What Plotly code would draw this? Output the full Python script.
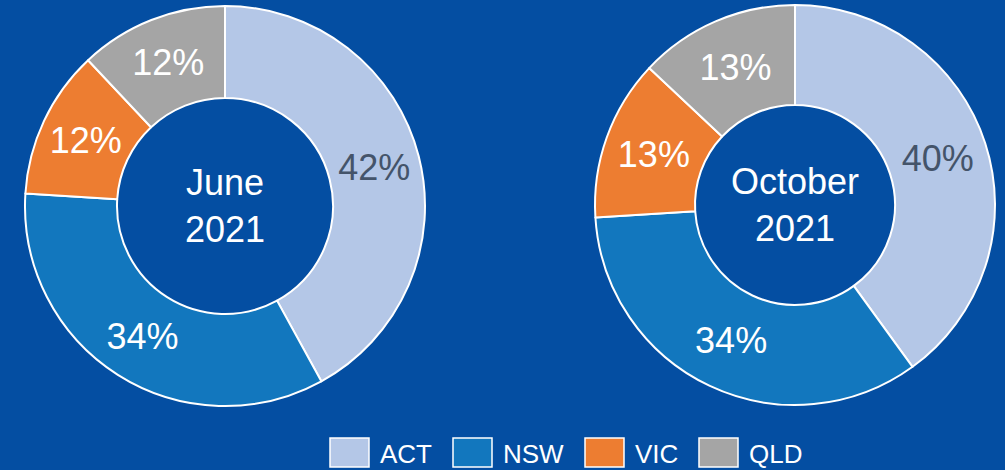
import plotly.graph_objects as go

categories = ["ACT", "NSW", "VIC", "QLD"]
june_values = [42, 34, 12, 12]
october_values = [40, 34, 13, 13]
panel_titles = ["June<br>2021", "October<br>2021"]

colors = ["#B4C7E7", "#1277BE", "#ED7D31", "#A5A5A5"]
label_colors = ["#44546A", "#FFFFFF", "#FFFFFF", "#FFFFFF"]
BG = "#044EA2"
FONT = "Arial, Liberation Sans, sans-serif"
W, H = 1005, 470

fig = go.Figure()

panels = [
    dict(values=june_values, cx=225, cy=206, r=200, hole=0.54, title=panel_titles[0]),
    dict(values=october_values, cx=795, cy=205, r=200, hole=0.50, title=panel_titles[1]),
]

for p in panels:
    x0, x1 = (p["cx"] - p["r"]) / W, (p["cx"] + p["r"]) / W
    y0, y1 = 1 - (p["cy"] + p["r"]) / H, 1 - (p["cy"] - p["r"]) / H
    fig.add_trace(go.Pie(
        labels=categories,
        values=p["values"],
        hole=p["hole"],
        sort=False,
        direction="clockwise",
        rotation=0,
        marker=dict(colors=colors, line=dict(color="white", width=2)),
        texttemplate="%{value}%",
        textposition="inside",
        insidetextorientation="horizontal",
        textfont=dict(family=FONT, size=36, color=label_colors),
        domain=dict(x=[x0, x1], y=[y0, y1]),
        showlegend=False,
        hoverinfo="label+value",
    ))
    fig.add_annotation(
        x=p["cx"] / W, y=1 - p["cy"] / H, xref="paper", yref="paper",
        text=p["title"], showarrow=False,
        font=dict(family=FONT, size=36, color="white"),
        xanchor="center", yanchor="middle",
    )

# Manual legend (large swatches)
legend_box_x = [330, 453, 585, 699]
box_w, box_h = 39, 29
box_top = 438
for cat, col, bx in zip(categories, colors, legend_box_x):
    fig.add_shape(
        type="rect", xref="paper", yref="paper",
        x0=bx / W, x1=(bx + box_w) / W,
        y0=1 - (box_top + box_h) / H, y1=1 - box_top / H,
        fillcolor=col, line=dict(color="white", width=1.5),
    )
    fig.add_annotation(
        x=(bx + box_w + 9) / W, y=1 - (box_top + box_h / 2 + 1) / H,
        xref="paper", yref="paper", text=cat, showarrow=False,
        xanchor="left", yanchor="middle",
        font=dict(family=FONT, size=26, color="white"),
    )

fig.update_layout(
    width=W, height=H,
    margin=dict(l=0, r=0, t=0, b=0),
    paper_bgcolor=BG, plot_bgcolor=BG,
    uniformtext=dict(minsize=36, mode="show"),
)

fig.write_html(
    "out.html",
    config={"displayModeBar": False},
    post_script="document.body.style.margin='0';document.body.style.padding='0';"
                "document.body.style.overflow='hidden';document.body.style.backgroundColor='%s';" % BG,
)
